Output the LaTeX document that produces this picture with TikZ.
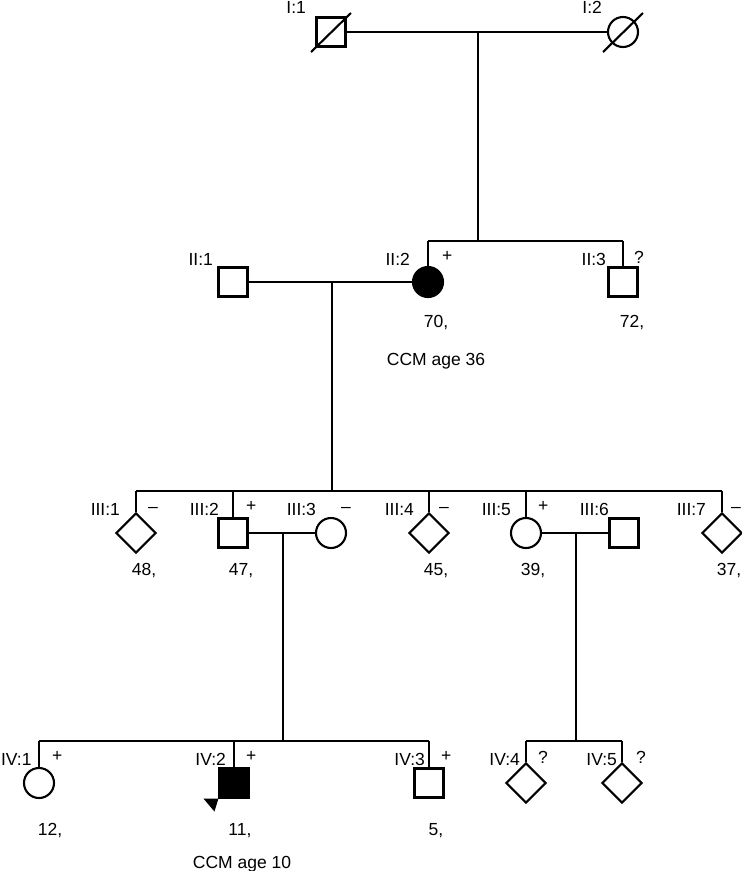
\documentclass[tikz,border=0pt]{standalone}
\usepackage{fontspec}
\setmainfont{Liberation Sans}
\usetikzlibrary{shapes.geometric}

\tikzset{
	male/.style={draw, rectangle, minimum size=29pt, inner sep=0pt},
	female/.style={draw, circle, minimum size=30pt, inner sep=0pt},
	unkn/.style={draw, diamond, minimum size=40pt, inner sep=0pt},
	aff/.style={fill=black},
	idlbl/.style={anchor=base east, inner sep=0pt},
	sign/.style={anchor=west, inner sep=0pt},
	agelbl/.style={anchor=base, inner sep=0pt}
}

\begin{document}
\begin{tikzpicture}[x=1pt, y=-1pt, line width=2.1pt, line join=miter, font=\fontsize{17.5}{20}\selectfont]
	\useasboundingbox (0,0) rectangle (742,871);
	
	% ==========================================
	% THẾ HỆ I
	% ==========================================
	\node[male] (I1) at (331,32) {};
	\node[female] (I2) at (623,32) {};
	% gạch chéo: đã mất
	\draw ([shift={(-20,20)}]I1.center) -- ([shift={(20,-19)}]I1.center);
	\draw ([shift={(-20,20)}]I2.center) -- ([shift={(20,-19)}]I2.center);
	\coordinate (m1) at (478,32);
	\coordinate (s2) at (478,241);
	\draw (I1) -- (I2);
	\draw (m1) -- (s2);
	
	% ==========================================
	% THẾ HỆ II
	% ==========================================
	\node[male] (II1) at (233,282) {};
	\node[female, aff] (II2) at (428,282) {};
	\node[male] (II3) at (623,282) {};
	\draw (II2 |- s2) -- (II3 |- s2);
	\draw (II2) -- (II2 |- s2);
	\draw (II3) -- (II3 |- s2);
	\coordinate (m2) at (332,282);
	\coordinate (s3) at (332,491);
	\draw (II1) -- (II2);
	\draw (m2) -- (s3);
	
	% ==========================================
	% THẾ HỆ III
	% ==========================================
	\node[unkn] (III1) at (136,533) {};
	\node[male] (III2) at (233,533) {};
	\node[female] (III3) at (331,533) {};
	\node[unkn] (III4) at (429,533) {};
	\node[female] (III5) at (526,533) {};
	\node[male] (III6) at (624,533) {};
	\node[unkn] (III7) at (722,533) {};
	\draw (III1 |- s3) -- (III7 |- s3);
	\foreach \c in {III1, III2, III4, III5, III7} {
		\draw (\c) -- (\c |- s3);
	}
	\coordinate (m3) at (283,533);
	\coordinate (s4) at (283,741);
	\coordinate (m4) at (576,533);
	\coordinate (s5) at (576,741);
	\draw (III2) -- (III3);
	\draw (III5) -- (III6);
	\draw (m3) -- (s4);
	\draw (m4) -- (s5);
	
	% ==========================================
	% THẾ HỆ IV
	% ==========================================
	\node[female] (IV1) at (39,783) {};
	\node[male, aff] (IV2) at (234,783) {};
	\node[male] (IV3) at (429,783) {};
	\node[unkn] (IV4) at (526,783) {};
	\node[unkn] (IV5) at (622,783) {};
	\draw (IV1 |- s4) -- (IV3 |- s4);
	\draw (IV4 |- s5) -- (IV5 |- s5);
	\foreach \c/\s in {IV1/s4, IV2/s4, IV3/s4, IV4/s5, IV5/s5} {
		\draw (\c) -- (\c |- \s);
	}
	% mũi tên người chỉ điểm
	\fill (IV2.south west) -- ([shift={(-15,0)}]IV2.south west) -- ([shift={(-4,13)}]IV2.south west) -- cycle;
	
	% ==========================================
	% NHÃN
	% ==========================================
	\foreach \x/\y/\t in {307/13/I:1, 603/13/I:2, 214/265/II:1, 411/265/II:2, 607/265/II:3,
		121/515/III:1, 220/515/III:2, 317/515/III:3, 415/515/III:4, 512/515/III:5, 610/515/III:6, 707/515/III:7,
		227/765/IV:2, 426/765/IV:3, 521/765/IV:4, 618/765/IV:5} {
		\node[idlbl] (id\t) at (\x,\y) {\t};
	}
	\node[anchor=base west, inner sep=0pt] (idIV:1) at (0,765) {IV:1};
	
	\foreach \x/\y/\t [count=\k] in {441/256/+, 633/257/?,
		147/510/--, 245/506/+, 340/510/--, 438/510/--, 537/506/+, 730/510/--,
		51/756/+, 245/756/+, 440/756/+, 537/757/?, 635/757/?} {
		\node[sign] (sg\k) at (\x,\y) {\t};
	}
	
	\foreach \x/\y/\t [count=\k] in {436/327/{70,}, 632/327/{72,},
		144/575/{48,}, 241/575/{47,}, 436/575/{45,}, 533/575/{39,}, 729/575/{37,},
		50/835/{12,}, 240/835/{11,}, 436/835/{5,}} {
		\node[agelbl] (age\k) at (\x,\y) {\t};
	}
	
	\node[agelbl] (ccm36) at (436,365) {CCM age 36};
	\node[agelbl] (ccm10) at (242,868) {CCM age 10};
\end{tikzpicture}
\end{document}
